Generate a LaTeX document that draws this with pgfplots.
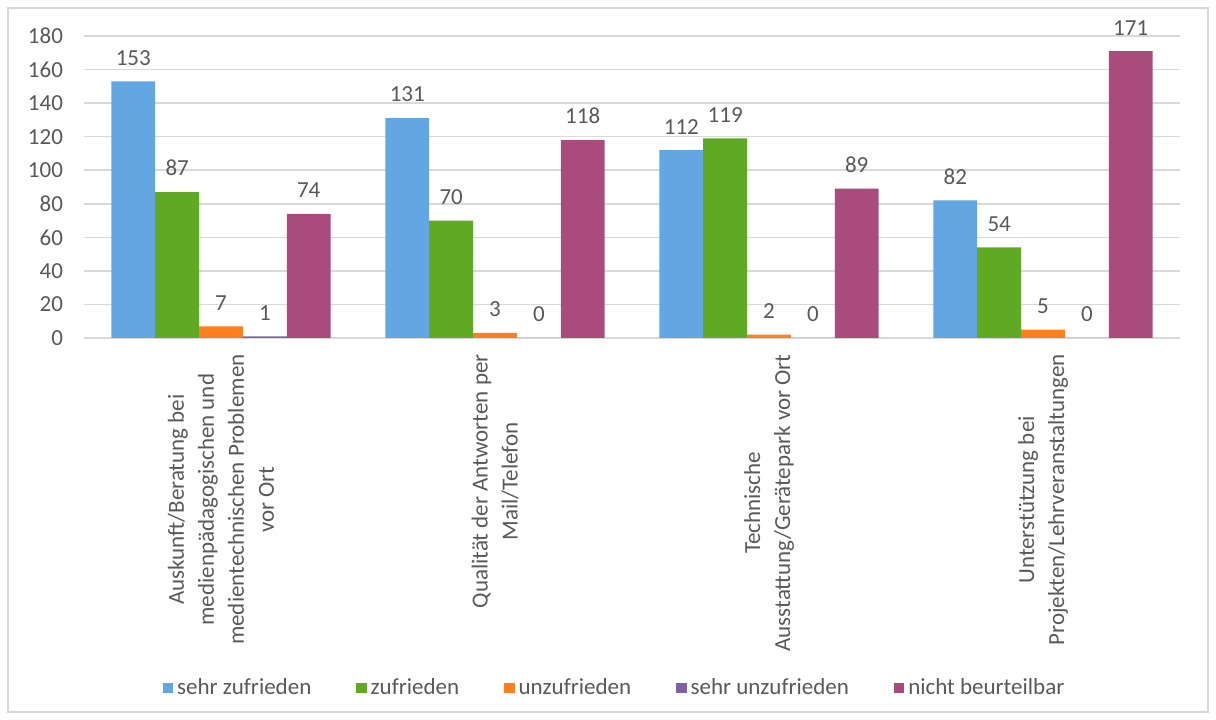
\documentclass[border=0pt]{standalone}
\usepackage{pgfplots}
\pgfplotsset{compat=1.18}
\usepackage{fontspec}
\setmainfont{Carlito}

\definecolor{cblue}{HTML}{62A7E2}
\definecolor{cgreen}{HTML}{5FAA22}
\definecolor{corange}{HTML}{FF7F1E}
\definecolor{cpurple}{HTML}{7F5FA5}
\definecolor{cmag}{HTML}{A94B7C}
\definecolor{txt}{HTML}{595959}
\definecolor{gridc}{HTML}{D9D9D9}

\begin{document}
\begin{tikzpicture}
\begin{axis}[
    scale only axis,
    width=548pt, height=151pt,
    ybar=0pt,
    bar width=0.16,
    xmin=-0.5, xmax=3.5,
    ymin=0, ymax=180,
    ytick={0,20,...,180},
    xtick={0,1,2,3},
    xticklabels={
        {Auskunft/Beratung bei\\medienpädagogischen und\\medientechnischen Problemen\\vor Ort},
        {Qualität der Antworten per\\Mail/Telefon},
        {Technische\\Ausstattung/Gerätepark vor Ort},
        {Unterstützung bei\\Projekten/Lehrveranstaltungen}},
    xticklabel style={rotate=90, anchor=east, align=center, inner xsep=8pt},
    yticklabel style={xshift=-7pt},
    major tick length=0pt,
    ymajorgrids,
    grid style={gridc, line width=0.8pt},
    axis line style={draw=none},
    tick label style={font=\fontsize{11.5}{15}\selectfont, text=txt},
    /pgf/number format/assume math mode=true,
    nodes near coords,
    every node near coord/.append style={font=\fontsize{11.5}{14}\selectfont, text=txt, yshift=4.5pt},
    clip=false,
    legend style={draw=none, at={(axis description cs:0.485,-1.159)}, anchor=center,
        font=\fontsize{11.5}{14}\selectfont, text=txt,
        /tikz/every even column/.append style={column sep=20.5pt}},
    legend columns=-1,
    legend image code/.code={\fill[#1] (0pt,-2.6pt) rectangle (5.2pt,2.6pt);},
]
\addplot[fill=cblue, draw=none] coordinates {(0,153) (1,131) (2,112) (3,82)};
\addplot[fill=cgreen, draw=none] coordinates {(0,87) (1,70) (2,119) (3,54)};
\addplot[fill=corange, draw=none] coordinates {(0,7) (1,3) (2,2) (3,5)};
\addplot[fill=cpurple, draw=none] coordinates {(0,1) (1,0) (2,0) (3,0)};
\addplot[fill=cmag, draw=none] coordinates {(0,74) (1,118) (2,89) (3,171)};
\legend{sehr zufrieden, zufrieden, unzufrieden, sehr unzufrieden, nicht beurteilbar}
\coordinate (bl) at (axis description cs:-0.07664,-1.26490);
\coordinate (tr) at (axis description cs:1.03285,1.11921);
\coordinate (bbl) at (axis description cs:-0.06934,-1.23841);
\coordinate (btr) at (axis description cs:1.02555,1.09272);
\end{axis}
\draw[gridc, line width=0.75pt] (bbl) rectangle (btr);
\pgfresetboundingbox
\path (bl) rectangle (tr);
\end{tikzpicture}
\end{document}
